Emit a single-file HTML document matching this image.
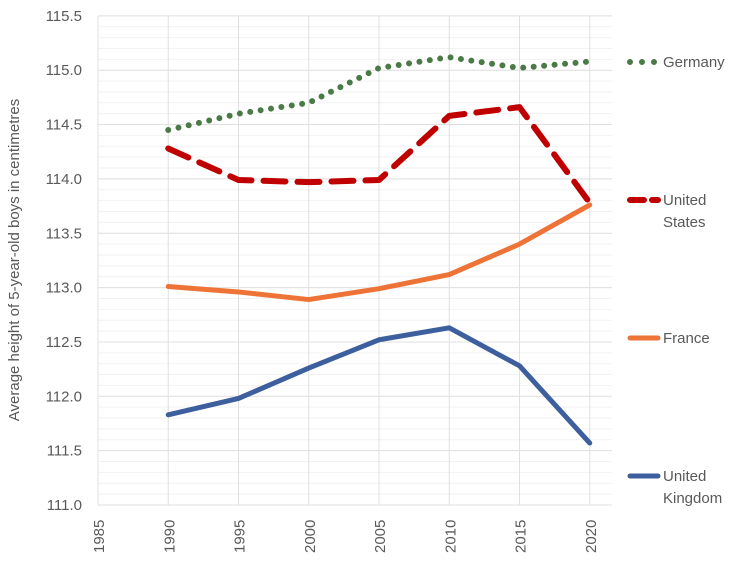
<!DOCTYPE html>
<html><head><meta charset="utf-8"><style>
body{margin:0;background:#fff;width:754px;height:574px;overflow:hidden}
svg text{font-family:"Liberation Sans",sans-serif;fill:#595959}
</style></head><body>
<svg id="chart" width="754" height="574" xmlns="http://www.w3.org/2000/svg">
<g id="grid"></g><g id="axes"></g><g id="series"></g><g id="legend"></g>
<text transform="translate(19,260) rotate(-90)" text-anchor="middle" font-size="15">Average height of 5-year-old boys in centimetres</text>
</svg>
<script>
const years=[1990,1995,2000,2005,2010,2015,2020];
const xTicks=[1985,1990,1995,2000,2005,2010,2015,2020];
const yTicks=[111.0,111.5,112.0,112.5,113.0,113.5,114.0,114.5,115.0,115.5];
const germany=[114.45,114.6,114.7,115.02,115.12,115.02,115.08];
const unitedStates=[114.28,113.99,113.97,113.99,114.58,114.66,113.78];
const france=[113.01,112.96,112.89,112.99,113.12,113.4,113.76];
const unitedKingdom=[111.83,111.98,112.26,112.52,112.63,112.28,111.57];
const NS="http://www.w3.org/2000/svg";
const x=v=>98+(v-1985)*14.05;
const y=v=>505-(v-111)*108.7;
function mk(t,a,p){const e=document.createElementNS(NS,t);for(const k in a)e.setAttribute(k,a[k]);p.appendChild(e);return e;}
const grid=document.getElementById('grid'),axes=document.getElementById('axes'),ser=document.getElementById('series'),leg=document.getElementById('legend');
for(let v=111.1;v<115.5;v+=0.1){const l=mk('line',{x1:98,x2:612,y1:y(v),y2:y(v),stroke:'#f2f2f2','stroke-width':1},grid);

}
yTicks.forEach(t=>{const l=mk('line',{x1:98,x2:612,y1:y(t),y2:y(t),stroke:'#e0e0e0','stroke-width':1},grid);


const tx=mk('text',{x:82,y:y(t)+5,'text-anchor':'end','font-size':15},axes);tx.textContent=t.toFixed(1);

});
xTicks.forEach(t=>{const l=mk('line',{x1:x(t),x2:x(t),y1:y(115.5),y2:y(111),stroke:'#e0e0e0','stroke-width':1},grid);


const tx=mk('text',{transform:`translate(${x(t)+6},553) rotate(-90)`,'font-size':15},axes);tx.textContent=t;

});
const defs=[
 {d:germany,c:'#4a7a46',dash:'0 10.5',w:6,name:'germany',lab:['Germany'],ly:62},
 {d:unitedStates,c:'#c00000',dash:'22 12',w:6,name:'united-states',lab:['United','States'],ly:200},
 {d:france,c:'#ee7337',dash:'',w:5,name:'france',lab:['France'],ly:338},
 {d:unitedKingdom,c:'#3d5f9e',dash:'',w:5,name:'united-kingdom',lab:['United','Kingdom'],ly:476}];
defs.forEach(s=>{
 const pts=s.d.map((v,i)=>x(years[i])+','+y(v)).join(' ');
 const p=mk('polyline',{points:pts,fill:'none',stroke:s.c,'stroke-width':s.w,'stroke-linecap':'round','stroke-linejoin':'round','stroke-dasharray':s.dash},ser);
 
 
 const ly=s.lab.length>1?s.ly:s.ly;
 const l=mk('line',{x1:630,x2:658,y1:ly,y2:ly,stroke:s.c,'stroke-width':s.w,'stroke-linecap':'round','stroke-dasharray':s.dash?(s.name=='germany'?'0 12':'14 8'):''},leg);
 
 
 s.lab.forEach((t,i)=>{const tx=mk('text',{x:663,y:s.ly+5+i*22,'font-size':15},leg);tx.textContent=t;
 
 });
});
</script>
</body></html>
